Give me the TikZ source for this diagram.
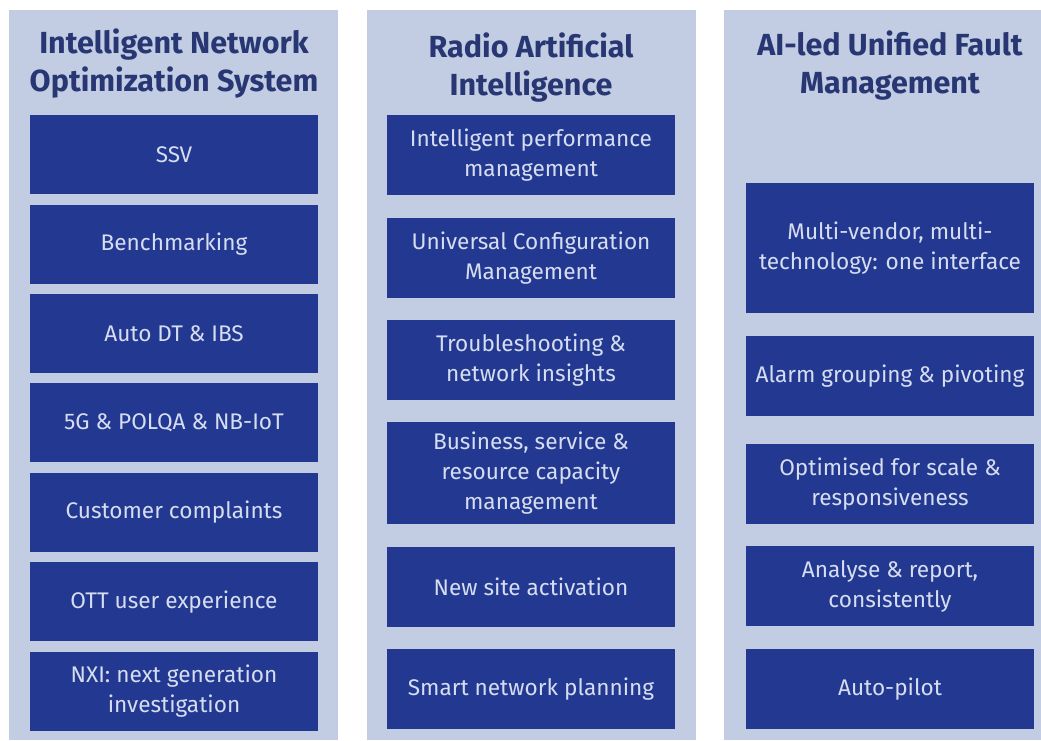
\documentclass[tikz,border=0pt]{standalone}
\usepackage{fontspec}
\setmainfont{Fira Sans}
\usetikzlibrary{positioning}

\definecolor{panelbg}{RGB}{194,205,227}
\definecolor{itemblue}{RGB}{35,57,145}
\definecolor{itemtext}{RGB}{214,221,240}
\definecolor{headblue}{RGB}{40,55,115}

\begin{document}
\begin{tikzpicture}[
    x=1pt, y=-1pt,
    node distance=10pt,
    panel/.style={rectangle, fill=panelbg, inner sep=0pt, anchor=north west},
    head/.style={align=center, text=headblue, font=\fontsize{30.5}{38}\selectfont\bfseries},
    item/.style={rectangle, fill=itemblue, text=itemtext, align=center, inner sep=0pt,
                 minimum width=288pt, minimum height=80pt, font=\fontsize{22.6}{30}\selectfont}
]
    \useasboundingbox (0,0) rectangle (1041,740);
    \fill[white] (0,0) rectangle (1041,740);

    % three columns
    \node[panel, minimum width=329pt, minimum height=730pt] (panelA) at (9,10) {};
    \node[panel, minimum width=329pt, minimum height=730pt] (panelB) at (367,10) {};
    \node[panel, minimum width=317pt, minimum height=730pt] (panelC) at (724,10) {};

    \node[head] (headA) at (174,64) {Intelligent Network\\Optimization System};
    \node[head] (headB) at (531,68) {Radio Artificial\\Intelligence};
    \node[head] (headC) at (890,66) {AI-led Unified Fault\\Management};

    % left column
    \node[item, minimum height=79pt, anchor=north] (ssv) at (174,115) {SSV};
    \node[item, minimum height=79pt, below=of ssv] (bench) {Benchmarking};
    \node[item, minimum height=79pt, below=of bench] (autodt) {Auto DT \& IBS};
    \node[item, minimum height=79pt, below=of autodt] (polqa) {5G \& POLQA \& NB-IoT};
    \node[item, minimum height=79pt, below=of polqa] (complaints) {Customer complaints};
    \node[item, minimum height=79pt, below=of complaints] (ott) {OTT user experience};
    \node[item, minimum height=79pt, below=of ott] (nxi) {NXI: next generation\\investigation};

    % middle column
    \node[item, anchor=north] (perf) at (531,115) {Intelligent performance\\management};
    \node[item, below=22pt of perf] (config) {Universal Configuration\\Management};
    \node[item, below=22pt of config] (trouble) {Troubleshooting \&\\network insights};
    \node[item, minimum height=102pt, below=22pt of trouble] (capacity) {Business, service \&\\resource capacity\\management};
    \node[item, below=22pt of capacity] (newsite) {New site activation};
    \node[item, below=22pt of newsite] (planning) {Smart network planning};

    % right column
    \node[item, minimum height=130pt, anchor=north] (vendor) at (890,183) {Multi-vendor, multi-\\technology: one interface};
    \node[item, below=22pt of vendor] (alarm) {Alarm grouping \& pivoting};
    \node[item, below=28pt of alarm] (scale) {Optimised for scale \&\\responsiveness};
    \node[item, below=22pt of scale] (report) {Analyse \& report,\\consistently};
    \node[item, below=22pt of report] (autopilot) {Auto-pilot};
\end{tikzpicture}
\end{document}
